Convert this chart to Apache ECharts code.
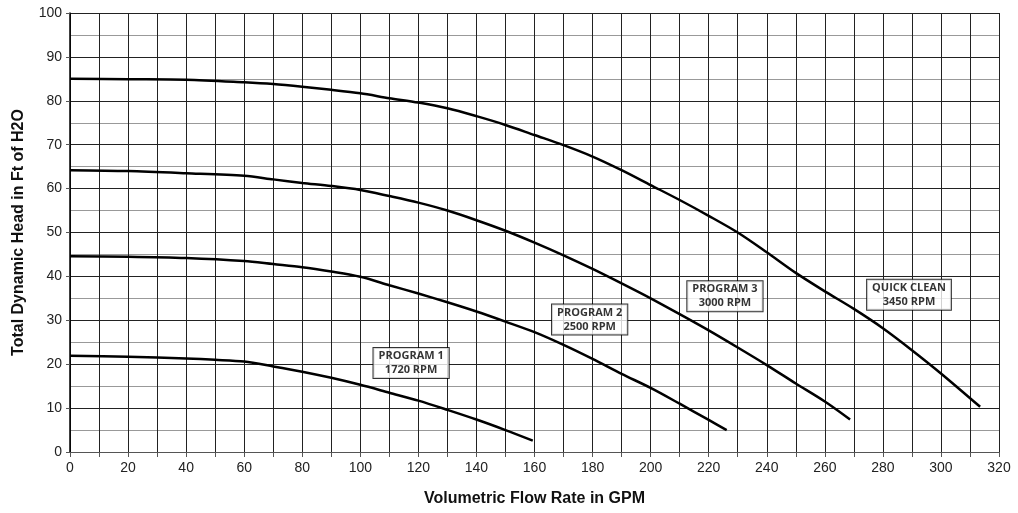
<!DOCTYPE html>
<html>
<head>
<meta charset="utf-8">
<script src="https://cdn.jsdelivr.net/npm/echarts@6/dist/echarts.min.js"></script>
<style>
  html, body { margin: 0; padding: 0; background: #fff; }
  #chart { width: 1018px; height: 513px; }
</style>
</head>
<body>
<div id="chart"></div>
<script>
// 流量 (GPM) / 扬程 (Ft)
const p1Flow = [0, 20, 40, 50, 60, 70, 80, 90, 100, 110, 120, 130, 140, 150, 159.4]
const p1Head = [21.9, 21.7, 21.3, 21.0, 20.6, 19.5, 18.3, 16.9, 15.3, 13.5, 11.7, 9.6, 7.4, 5.0, 2.6]

const p2Flow = [0, 20, 40, 60, 70, 80, 90, 100, 110, 120, 130, 140, 150, 160, 170, 180, 190, 200, 210, 220, 226.2]
const p2Head = [44.6, 44.5, 44.2, 43.5, 42.8, 42.1, 41.1, 39.9, 38.0, 36.1, 34.1, 32.0, 29.7, 27.3, 24.4, 21.2, 17.8, 14.6, 11.0, 7.3, 5.0]

const p3Flow = [0, 20, 40, 60, 70, 80, 90, 100, 110, 120, 130, 140, 150, 160, 170, 180, 190, 200, 210, 220, 230, 240, 250, 260, 268.7]
const p3Head = [64.2, 64.0, 63.5, 62.9, 62.1, 61.3, 60.6, 59.7, 58.3, 56.8, 55.0, 52.8, 50.4, 47.7, 44.8, 41.7, 38.4, 35.0, 31.4, 27.7, 23.8, 19.8, 15.6, 11.5, 7.4]

const qcFlow = [0, 20, 40, 60, 70, 80, 90, 100, 110, 120, 130, 140, 150, 160, 170, 180, 190, 200, 210, 220, 230, 240, 250, 260, 270, 280, 290, 300, 313.5]
const qcHead = [85.0, 84.9, 84.8, 84.2, 83.8, 83.2, 82.5, 81.7, 80.6, 79.6, 78.3, 76.5, 74.5, 72.2, 69.9, 67.3, 64.2, 60.8, 57.4, 53.8, 50.0, 45.5, 40.8, 36.6, 32.6, 28.2, 23.2, 17.9, 10.3]

// 曲线标注
const labelText = ['PROGRAM 1\n1720 RPM', 'PROGRAM 2\n2500 RPM', 'PROGRAM 3\n3000 RPM', 'QUICK CLEAN\n3450 RPM']
const labelX = [117.5, 179, 225.6, 289]
const labelY = [20.3, 30.2, 35.5, 35.8]

function pairs(xs, ys) {
    return xs.map((x, i) => [x, ys[i]])
}

function curve(xs, ys) {
    return {
        type: 'line',
        data: pairs(xs, ys),
        smooth: 0.3,
        symbol: 'none',
        lineStyle: { color: '#000', width: 2.5 },
        silent: true
    }
}

let myChart = echarts.init(document.getElementById('chart'))
myChart.setOption({
    animation: false,
    backgroundColor: '#fff',
    grid: { left: 70, right: 19, top: 13, bottom: 61 },
    xAxis: {
        type: 'value',
        min: 0,
        max: 320,
        interval: 10,
        name: 'Volumetric Flow Rate in GPM',
        nameLocation: 'middle',
        nameGap: 39,
        nameTextStyle: { fontFamily: 'Liberation Sans', fontWeight: 'bold', fontSize: 16, color: '#111' },
        axisLine: { lineStyle: { color: '#555', width: 1 } },
        axisTick: { show: true, length: 5, lineStyle: { color: '#555' } },
        axisLabel: {
            fontFamily: 'Liberation Sans',
            fontSize: 14,
            color: '#222',
            margin: 9,
            formatter: v => (v % 20 === 0 ? String(v) : '')
        },
        splitLine: { show: true, lineStyle: { color: '#222', width: 1 } }
    },
    yAxis: {
        type: 'value',
        min: 0,
        max: 100,
        interval: 10,
        name: 'Total Dynamic Head in Ft of H2O',
        nameLocation: 'middle',
        nameGap: 43,
        nameTextStyle: { fontFamily: 'Liberation Sans', fontWeight: 'bold', fontSize: 16, color: '#111' },
        axisLine: { show: true, lineStyle: { color: '#000', width: 1.5 } },
        axisTick: { show: true, length: 4, lineStyle: { color: '#555' } },
        axisLabel: { fontFamily: 'Liberation Sans', fontSize: 14, color: '#222', margin: 8 },
        splitLine: { show: true, lineStyle: { color: '#222', width: 1 } },
        minorTick: { show: false, splitNumber: 2 },
        minorSplitLine: { show: true, lineStyle: { color: '#999', width: 1 } }
    },
    series: [
        curve(p1Flow, p1Head),
        curve(p2Flow, p2Head),
        curve(p3Flow, p3Head),
        curve(qcFlow, qcHead),
        {
            type: 'scatter',
            symbolSize: 0,
            silent: true,
            z: 10,
            data: labelX.map((x, i) => ({ value: [x, labelY[i]], name: labelText[i] })),
            label: {
                show: true,
                position: 'inside',
                formatter: p => p.name,
                fontFamily: 'Open Sans',
                fontWeight: 'bold',
                fontSize: 11,
                lineHeight: 14,
                color: '#000',
                backgroundColor: '#fff',
                borderColor: '#000',
                borderWidth: 1,
                padding: [1, 5, 1, 5],
                align: 'center'
            }
        }
    ]
})
</script>
</body>
</html>
